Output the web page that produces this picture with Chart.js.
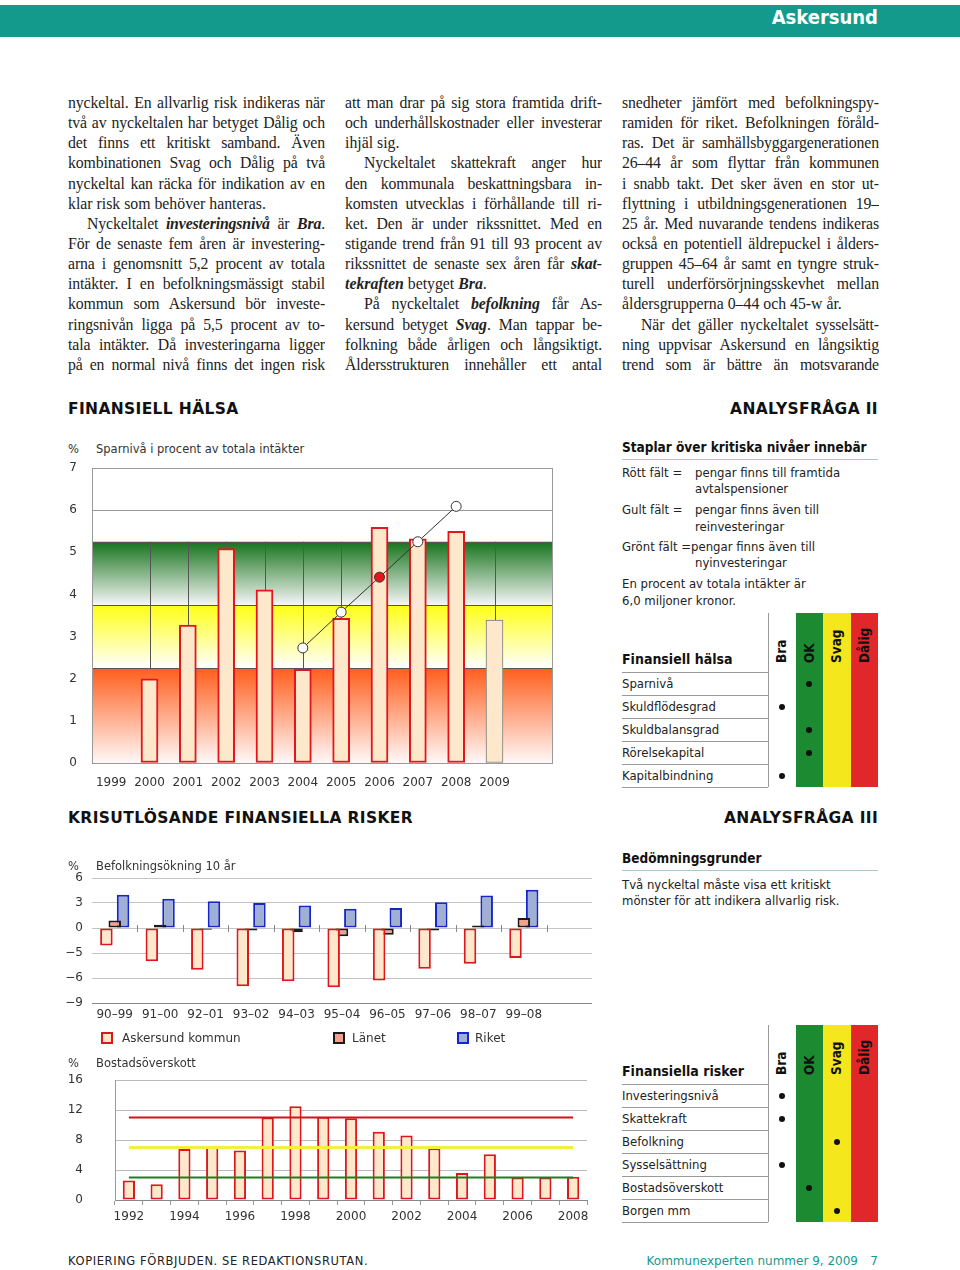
<!DOCTYPE html>
<html><head><meta charset="utf-8">
<script src="https://cdn.jsdelivr.net/npm/chart.js@4.4.1/dist/chart.umd.min.js"></script>
<style>
html,body{margin:0;padding:0;background:#fff;}
body{width:960px;height:1270px;position:relative;overflow:hidden;color:#222;}
.abs{position:absolute;white-space:nowrap;}
.topband{left:0;top:5px;width:960px;height:32px;background:#139a8d;}
.brand{right:82px;top:5px;line-height:32px;color:#fff;font:bold 20px "DejaVu Sans Condensed","DejaVu Sans",sans-serif;font-stretch:condensed;}
.col{position:absolute;top:93px;width:257px;font-family:"Liberation Serif","Times New Roman",serif;font-size:15.8px;}
.ln{height:20.15px;line-height:20.15px;overflow:hidden;text-align:justify;text-align-last:justify;white-space:nowrap;}
.ln.e{text-align-last:left;}
.ln.i{text-indent:19px;}
.head{font:bold 15.5px "DejaVu Sans",sans-serif;letter-spacing:0.35px;color:#111;}
.sans{font-family:"DejaVu Sans Condensed","DejaVu Sans",sans-serif;font-stretch:condensed;font-size:13px;color:#222;}
.sansb{font-family:"DejaVu Sans Condensed","DejaVu Sans",sans-serif;font-stretch:condensed;font-weight:bold;font-size:13.5px;color:#111;}
.ct{font:11.5px "DejaVu Sans",sans-serif;color:#333;}
canvas{position:absolute;}
.rot{position:absolute;writing-mode:vertical-rl;transform:rotate(180deg);text-align:start;font-family:"DejaVu Sans Condensed","DejaVu Sans",sans-serif;font-stretch:condensed;font-weight:bold;font-size:13.5px;color:#111;}
.dot{position:absolute;width:6px;height:6px;border-radius:50%;background:#111;}
.cell{position:absolute;}
.hline{position:absolute;height:1px;background:#aaa;}
.leg{position:absolute;width:8px;height:8px;border:2px solid;}
</style>
</head><body>
<div class="abs topband"></div>
<div class="abs brand">Askersund</div>

<canvas id="c1" width="540" height="340" style="left:60px;top:460px;width:540px;height:340px"></canvas>
<canvas id="c2" width="540" height="160" style="left:60px;top:870px;width:540px;height:160px"></canvas>
<canvas id="c3" width="540" height="160" style="left:60px;top:1070px;width:540px;height:160px"></canvas>

<script>
// ---------- DATA ----------
// Sparnivå i procent av totala intäkter
const sparTickLabels = ['1999','2000','2001','2002','2003','2004','2005','2006','2007','2008','2009'];
const sparYears  = [2000, 2001, 2002, 2003, 2004, 2005, 2006, 2007, 2008, 2009];
const sparValues = [2.0, 3.27, 5.09, 4.11, 2.22, 3.43, 5.59, 5.32, 5.50, 3.39];
const sparPreliminaryYear = 2009;
const trendYears  = [2004, 2005, 2006, 2007, 2008];
const trendValues = [2.73, 3.58, 4.41, 5.25, 6.09];
const trendHighlightYear = 2006;
const sparBandLevels = [2.25, 3.75, 5.25]; // red / yellow / green upper limits

// Befolkningsökning 10 år
const befPeriods = ['90–99','91–00','92–01','93–02','94–03','95–04','96–05','97–06','98–07','99–08'];
const befAskersund = [-2.1, -4.0, -5.0, -7.0, -6.4, -7.1, -6.3, -4.9, -4.3, -3.6];
const befLanet     = [0.9, 0.4, -0.2, -0.3, -0.5, -1.0, -0.8, -0.3, 0.3, 1.2];
const befRiket     = [4.0, 3.5, 3.2, 3.0, 2.7, 2.3, 2.4, 3.1, 3.9, 4.6];
const befTickValues = [6, 3, 0, -3, -6, -9];
const befTickLabels = ['6', '3', '0', '−5', '−6', '−9'];
const befSeriesNames = ['Askersund kommun', 'Länet', 'Riket'];

// Bostadsöverskott
const bostYears  = ['1992','1993','1994','1995','1996','1997','1998','1999','2000','2001','2002','2003','2004','2005','2006','2007','2008'];
const bostValues = [2.6, 2.1, 6.8, 7.2, 6.6, 11.0, 12.5, 11.1, 10.9, 9.1, 8.6, 6.9, 3.6, 6.1, 3.0, 3.0, 3.1];
const bostRedLevel = 11, bostYellowLevel = 7, bostGreenLevel = 3;

// Bedömningstabeller (kolumn: 0 Bra, 1 OK, 2 Svag, 3 Dålig)
const gradeNames = ['Bra','OK','Svag','Dålig'];
const halsaRows = ['Sparnivå','Skuldflödesgrad','Skuldbalansgrad','Rörelsekapital','Kapitalbindning'];
const halsaGrades = [1, 0, 1, 1, 0];
const riskRows = ['Investeringsnivå','Skattekraft','Befolkning','Sysselsättning','Bostadsöverskott','Borgen mm'];
const riskGrades = [0, 0, 2, 0, 1, 2];

// ---------- TEXT ----------
const col1 = [
 ['nyckeltal. En allvarlig risk indikeras när',''],
 ['två av nyckeltalen har betyget Dålig och',''],
 ['det finns ett kritiskt samband. Även',''],
 ['kombinationen Svag och Dålig på två',''],
 ['nyckeltal kan räcka för indikation av en',''],
 ['klar risk som behöver hanteras.','e'],
 ['Nyckeltalet <b><i>investeringsnivå</i></b> är <b><i>Bra</i></b>.','i'],
 ['För de senaste fem åren är investering-',''],
 ['arna i genomsnitt 5,2 procent av totala',''],
 ['intäkter. I en befolkningsmässigt stabil',''],
 ['kommun som Askersund bör investe-',''],
 ['ringsnivån ligga på 5,5 procent av to-',''],
 ['tala intäkter. Då investeringarna ligger',''],
 ['på en normal nivå finns det ingen risk','']
];
const col2 = [
 ['att man drar på sig stora framtida drift-',''],
 ['och underhållskostnader eller investerar',''],
 ['ihjäl sig.','e'],
 ['Nyckeltalet skattekraft anger hur','i'],
 ['den kommunala beskattningsbara in-',''],
 ['komsten utvecklas i förhållande till ri-',''],
 ['ket. Den är under rikssnittet. Med en',''],
 ['stigande trend från 91 till 93 procent av',''],
 ['rikssnittet de senaste sex åren får <b><i>skat-</i></b>',''],
 ['<b><i>tekraften</i></b> betyget <b><i>Bra</i></b>.','e'],
 ['På nyckeltalet <b><i>befolkning</i></b> får As-','i'],
 ['kersund betyget <b><i>Svag</i></b>. Man tappar be-',''],
 ['folkning både årligen och långsiktigt.',''],
 ['Åldersstrukturen innehåller ett antal','']
];
const col3 = [
 ['snedheter jämfört med befolkningspy-',''],
 ['ramiden för riket. Befolkningen föråld-',''],
 ['ras. Det är samhällsbyggargenerationen',''],
 ['26–44 år som flyttar från kommunen',''],
 ['i snabb takt. Det sker även en stor ut-',''],
 ['flyttning i utbildningsgenerationen 19–',''],
 ['25 år. Med nuvarande tendens indikeras',''],
 ['också en potentiell äldrepuckel i ålders-',''],
 ['gruppen 45–64 år samt en tyngre struk-',''],
 ['turell underförsörjningsskevhet mellan',''],
 ['åldersgrupperna 0–44 och 45-w år.','e'],
 ['När det gäller nyckeltalet sysselsätt-','i'],
 ['ning uppvisar Askersund en långsiktig',''],
 ['trend som är bättre än motsvarande','']
];

function addCol(lines, left) {
  const c = document.createElement('div');
  c.className = 'col'; c.style.left = left + 'px';
  lines.forEach(([t, f]) => {
    const d = document.createElement('div');
    d.className = 'ln ' + f.split('').join(' ');
    d.innerHTML = '<span>' + t + '</span>';
    c.appendChild(d);
  });
  document.body.appendChild(c);
  c.querySelectorAll('.ln').forEach(d => {
    const s = d.firstChild;
    const avail = 257 - (d.classList.contains('i') ? 19 : 0);
    const w = s.getBoundingClientRect().width;
    if (w > avail - 4) {
      const n = s.textContent.length;
      d.style.letterSpacing = (-(w - avail + 5) / n) + 'px';
    }
  });
}
addCol(col1, 68); addCol(col2, 345); addCol(col3, 622);

function put(html, x, cy, cls, opts) {
  opts = opts || {};
  const d = document.createElement('div');
  d.className = 'abs ' + cls;
  d.innerHTML = html;
  const lh = opts.lh || 18;
  d.style.lineHeight = lh + 'px';
  d.style.top = (cy - lh / 2) + 'px';
  if (opts.right) { d.style.right = (960 - x) + 'px'; } else { d.style.left = x + 'px'; }
  if (opts.size) d.style.fontSize = opts.size + 'px';
  if (opts.color) d.style.color = opts.color;
  document.body.appendChild(d);
  return d;
}
function hline(x1, x2, y, color) {
  const d = document.createElement('div');
  d.className = 'hline';
  d.style.left = x1 + 'px'; d.style.width = (x2 - x1) + 'px'; d.style.top = y + 'px';
  if (color) d.style.background = color;
  document.body.appendChild(d);
}

// section headings
put('FINANSIELL HÄLSA', 68, 409, 'head');
put('ANALYSFRÅGA II', 878, 409, 'head', {right:true});
put('KRISUTLÖSANDE FINANSIELLA RISKER', 68, 818, 'head');
put('ANALYSFRÅGA III', 878, 818, 'head', {right:true});

// chart titles
put('%', 68, 449, 'ct'); put('Sparnivå i procent av totala intäkter', 96, 449, 'ct');
put('%', 68, 866, 'ct'); put('Befolkningsökning 10 år', 96, 866, 'ct');
put('%', 68, 1063, 'ct'); put('Bostadsöverskott', 96, 1063, 'ct');

// legend for chart 2
const legStyles = [['#fde8cc','#e0161c',101,122],['#f3a08c','#1a1a1a',333,352],['#9fb0d4','#1626c8',457,475]];
legStyles.forEach((s, i) => {
  const b = document.createElement('div');
  b.className = 'leg'; b.style.background = s[0]; b.style.borderColor = s[1];
  b.style.left = s[2] + 'px'; b.style.top = '1032px';
  document.body.appendChild(b);
  put(befSeriesNames[i], s[3], 1038, 'ct', {size:12});
});

// right panel: explanation
put('Staplar över kritiska nivåer innebär', 622, 447, 'sansb');
hline(622, 878, 459, '#a9c9cc');
put('Rött fält =', 622, 473, 'sans'); put('pengar finns till framtida', 695, 473, 'sans');
put('avtalspensioner', 695, 489, 'sans');
put('Gult fält =', 622, 510, 'sans'); put('pengar finns även till', 695, 510, 'sans');
put('reinvesteringar', 695, 527, 'sans');
put('Grönt fält =pengar finns även till', 622, 547, 'sans');
put('nyinvesteringar', 695, 563, 'sans');
put('En procent av totala intäkter är', 622, 584, 'sans');
put('6,0 miljoner kronor.', 622, 601, 'sans');

put('Bedömningsgrunder', 622, 858, 'sansb');
hline(622, 878, 870, '#a9c9cc');
put('Två nyckeltal måste visa ett kritiskt', 622, 885, 'sans');
put('mönster för att indikera allvarlig risk.', 622, 901, 'sans');

// grade tables
const colX = [768, 795.5, 823, 850.5, 878];
const colFill = ['#ffffff', '#1b8a31', '#f4e81c', '#e2272b'];
function makeTable(top, headBottom, title, rows, grades) {
  const rowH = 23;
  const bottom = headBottom + rows.length * rowH;
  for (let c = 0; c < 4; c++) {
    const d = document.createElement('div');
    d.className = 'cell';
    d.style.left = colX[c] + 'px'; d.style.width = (colX[c + 1] - colX[c]) + 'px';
    d.style.top = top + 'px'; d.style.height = (bottom - top) + 'px';
    d.style.background = colFill[c];
    if (c === 0) { d.style.borderLeft = '1px solid #999'; d.style.boxSizing = 'border-box'; }
    document.body.appendChild(d);
    const r = document.createElement('div');
    r.className = 'rot';
    r.textContent = gradeNames[c];
    r.style.left = colX[c] + 'px'; r.style.width = (colX[c + 1] - colX[c]) + 'px';
    r.style.lineHeight = (colX[c + 1] - colX[c]) + 'px';
    r.style.top = (top + 4) + 'px'; r.style.height = (headBottom - 9 - top - 4) + 'px';
    document.body.appendChild(r);
  }
  put(title, 622, headBottom - 13, 'sansb', {size:14});
  hline(622, 768, headBottom, '#999');
  rows.forEach((name, i) => {
    const cy = headBottom + i * rowH + rowH / 2;
    put(name, 622, cy, 'sans');
    hline(622, 768, headBottom + (i + 1) * rowH, '#999');
    const g = grades[i];
    const dot = document.createElement('div');
    dot.className = 'dot';
    dot.style.left = ((colX[g] + colX[g + 1]) / 2 - 3) + 'px';
    dot.style.top = (cy - 3) + 'px';
    document.body.appendChild(dot);
  });
}
makeTable(613, 672, 'Finansiell hälsa', halsaRows, halsaGrades);
makeTable(1025, 1084, 'Finansiella risker', riskRows, riskGrades);

// footer
put('KOPIERING FÖRBJUDEN. SE REDAKTIONSRUTAN.', 68, 1261, 'ct', {size:11.5, color:'#222'}).style.letterSpacing = '0.6px';
put('Kommunexperten nummer 9, 2009', 858, 1261, 'ct', {size:12, right:true, color:'#139a8d'});
put('7', 878, 1261, 'ct', {size:12, right:true, color:'#139a8d'});

// ---------- CHARTS ----------
Chart.defaults.font.family = '"DejaVu Sans", sans-serif';
Chart.defaults.font.size = 12;
Chart.defaults.color = '#333';
Chart.defaults.animation = false;
Chart.defaults.plugins.legend.display = false;
Chart.defaults.plugins.tooltip.enabled = false;

function fixY(w) { return s => { s.width = w; s.paddingTop = 0; s.paddingBottom = 0; }; }
function fixX(h) { return s => { s.height = h; s.paddingLeft = 0; s.paddingRight = 0; }; }

// Chart 1
const bandPlugin = {
  id: 'bands',
  beforeDatasetsDraw(chart) {
    const {ctx, chartArea: a, scales: {x, y}} = chart;
    const y0 = y.getPixelForValue(0);
    const yR = y.getPixelForValue(sparBandLevels[0]);
    const yY = y.getPixelForValue(sparBandLevels[1]);
    const yG = y.getPixelForValue(sparBandLevels[2]);
    function band(t, b, c1, c2) {
      const g = ctx.createLinearGradient(0, t, 0, b);
      g.addColorStop(0, c1); g.addColorStop(1, c2);
      ctx.fillStyle = g; ctx.fillRect(a.left, t, a.right - a.left, b - t);
    }
    ctx.save();
    band(yG, yY, '#15731c', '#f6f6f6');
    band(yY, yR, '#ffff14', '#ffffff');
    band(yR, y0, '#ff5e1c', '#fff8f8');
    ctx.strokeStyle = '#555'; ctx.lineWidth = 1;
    ctx.beginPath();
    [yG, yY, yR].forEach(v => { ctx.moveTo(a.left, Math.round(v) + 0.5); ctx.lineTo(a.right, Math.round(v) + 0.5); });
    sparYears.forEach(yr => { const px = Math.round(x.getPixelForValue(yr)) + 0.5; ctx.moveTo(px, yG); ctx.lineTo(px, yR); });
    ctx.stroke();
    ctx.strokeStyle = '#999';
    ctx.strokeRect(Math.round(a.left) + 0.5, Math.round(a.top) + 0.5, Math.round(a.right - a.left), Math.round(a.bottom - a.top));
    ctx.restore();
  }
};
new Chart(document.getElementById('c1'), {
  type: 'bar',
  data: {
    datasets: [
      {
        type: 'line',
        data: trendYears.map((yr, i) => ({x: yr, y: trendValues[i]})),
        borderColor: '#333', borderWidth: 1,
        pointRadius: 5, pointBorderWidth: 1, pointBorderColor: '#333',
        pointBackgroundColor: c => (c.raw && c.raw.x === trendHighlightYear) ? '#e3161c' : '#ffffff'
      },
      {
        type: 'bar',
        data: sparYears.map((yr, i) => ({x: yr, y: sparValues[i]})),
        backgroundColor: '#fde8cc',
        borderColor: c => (c.raw && c.raw.x === sparPreliminaryYear) ? '#777' : '#e3161c',
        borderWidth: c => (c.raw && c.raw.x === sparPreliminaryYear) ? 1 : 2,
        borderSkipped: false,
        barThickness: 17
      }
    ]
  },
  options: {
    responsive: false,
    layout: {padding: {top: 8, right: 48, left: 0, bottom: 0}},
    scales: {
      x: {
        type: 'linear', min: 1999, max: 2010,
        afterFit: fixX(37),
        grid: {display: false},
        border: {display: true, color: '#666'},
        ticks: {stepSize: 1, autoSkip: false, maxRotation: 0, padding: 5,
          callback: v => sparTickLabels.includes(String(v)) ? String(v) : ''}
      },
      y: {
        min: 0, max: 7,
        afterFit: fixY(32),
        grid: {color: '#999', drawTicks: false},
        border: {color: '#777'},
        ticks: {stepSize: 1, padding: 15}
      }
    }
  },
  plugins: [bandPlugin]
});

// Chart 2
const zeroTickPlugin = {
  id: 'zeroTicks',
  afterDatasetsDraw(chart) {
    const {ctx, scales: {x, y}} = chart;
    const y0 = Math.round(y.getPixelForValue(0));
    const half = (x.getPixelForValue(1) - x.getPixelForValue(0)) / 2;
    ctx.save(); ctx.strokeStyle = '#888'; ctx.lineWidth = 1; ctx.beginPath();
    for (let i = 1; i <= befPeriods.length; i++) {
      const px = Math.round(x.getPixelForValue(i) - half) + 0.5;
      ctx.moveTo(px, y0 - 3); ctx.lineTo(px, y0 + 4);
    }
    ctx.stroke(); ctx.restore();
  }
};
new Chart(document.getElementById('c2'), {
  type: 'bar',
  data: {
    labels: [...befPeriods, ''],
    datasets: [
      {data: befAskersund, backgroundColor: '#fde8cc', borderColor: '#e0161c', borderWidth: 2, borderSkipped: false},
      {data: befLanet, backgroundColor: '#f3a08c', borderColor: '#1a1a1a', borderWidth: 2, borderSkipped: false},
      {data: befRiket, backgroundColor: '#9fb0d4', borderColor: '#1626c8', borderWidth: 2, borderSkipped: false}
    ]
  },
  options: {
    responsive: false,
    layout: {padding: {top: 8, right: 8, left: 2, bottom: 0}},
    datasets: {bar: {categoryPercentage: 0.55, barPercentage: 1.5}},
    scales: {
      x: {
        afterFit: fixX(27),
        grid: {display: false},
        border: {display: false},
        ticks: {autoSkip: false, maxRotation: 0, padding: -3}
      },
      y: {
        min: -9, max: 6,
        afterFit: fixY(30),
        border: {display: false},
        grid: {drawTicks: false, color: c => c.tick && c.tick.value === -9 ? '#888' : '#c4c4c4'},
        ticks: {stepSize: 3, padding: 9,
          callback: v => { const i = befTickValues.indexOf(v); return i >= 0 ? befTickLabels[i] : ''; }}
      }
    }
  },
  plugins: [zeroTickPlugin]
});

// Chart 3
function levelLine(level, color, width) {
  return {
    type: 'line',
    data: [{x: bostYears[0], y: level}, {x: bostYears[bostYears.length - 1], y: level}],
    borderColor: color, borderWidth: width, pointRadius: 0
  };
}
new Chart(document.getElementById('c3'), {
  type: 'bar',
  data: {
    labels: bostYears,
    datasets: [
      levelLine(bostRedLevel, '#d4121b', 2),
      levelLine(bostYellowLevel, '#f4ef3c', 3),
      levelLine(bostGreenLevel, '#1e7e1e', 2),
      {type: 'bar', data: bostValues, backgroundColor: '#fde8cc', borderColor: '#e0161c', borderWidth: 2,
       borderSkipped: false, categoryPercentage: 1, barPercentage: 0.44}
    ]
  },
  options: {
    responsive: false,
    layout: {padding: {top: 10, right: 13, left: 0, bottom: 0}},
    scales: {
      x: {
        afterFit: fixX(30),
        grid: {offset: true, drawOnChartArea: false, drawTicks: true, tickLength: 5, color: '#999'},
        border: {color: '#888'},
        ticks: {autoSkip: false, maxRotation: 0, padding: 5,
          callback: (v, i) => i % 2 === 0 ? bostYears[i] : ''}
      },
      y: {
        min: 0, max: 16,
        afterFit: fixY(55),
        border: {color: '#999'},
        grid: {drawTicks: false, color: '#bbb'},
        ticks: {stepSize: 4, padding: 32}
      }
    }
  }
});
</script>
</body></html>
